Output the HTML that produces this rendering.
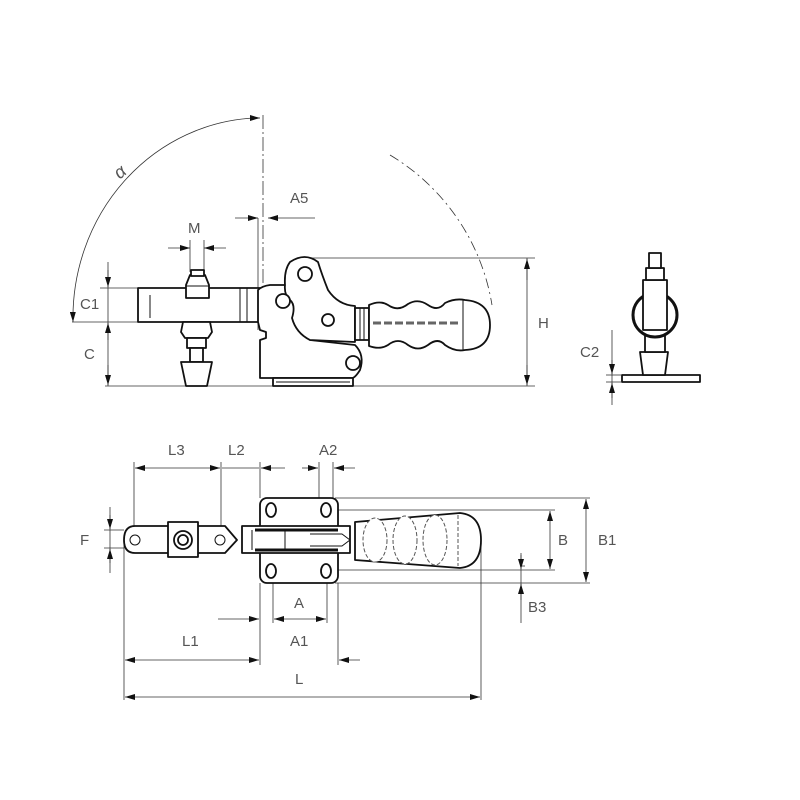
<!DOCTYPE html>
<html><head><meta charset="utf-8"><style>
html,body{margin:0;padding:0;background:#fff;width:800px;height:800px;overflow:hidden}
svg text{font-family:"Liberation Sans",sans-serif;font-size:15px;fill:#555;font-stretch:condensed}
</style></head><body>
<svg width="800" height="800" viewBox="0 0 800 800" xmlns="http://www.w3.org/2000/svg">
<defs>
<marker id="a" markerWidth="10" markerHeight="6" refX="10" refY="3" orient="auto" markerUnits="userSpaceOnUse"><path d="M0,0 L10,3 L0,6 Z" fill="#111"/></marker>
</defs>
<g stroke="#333" stroke-width="0.8" fill="none">
<!-- centre line -->
<line x1="263" y1="115" x2="263" y2="330" stroke-dasharray="14,3,2,3"/>
<!-- alpha arc -->
<path d="M255,118 A190,200 0 0 0 73,322" marker-end="url(#a)"/>
<line x1="250" y1="118" x2="260" y2="118" marker-end="url(#a)"/>
<!-- dashed arc -->
<path d="M390,155 A215,215 0 0 1 492,305" stroke-dasharray="10,4,2,4"/>
<!-- A5 -->
<line x1="235" y1="218" x2="258" y2="218" marker-end="url(#a)"/>
<line x1="315" y1="218" x2="268" y2="218" marker-end="url(#a)"/>
<line x1="258" y1="218" x2="258" y2="330"/>
<!-- M -->
<line x1="168" y1="248" x2="190" y2="248" marker-end="url(#a)"/>
<line x1="226" y1="248" x2="204" y2="248" marker-end="url(#a)"/>
<line x1="190" y1="240" x2="190" y2="272"/><line x1="204" y1="240" x2="204" y2="272"/>
<!-- H -->
<line x1="310" y1="258" x2="535" y2="258"/>
<line x1="105" y1="386" x2="535" y2="386"/>
<line x1="527" y1="258" x2="527" y2="386"/>
<line x1="527" y1="280" x2="527" y2="259" marker-end="url(#a)"/>
<line x1="527" y1="365" x2="527" y2="385" marker-end="url(#a)"/>
<!-- C1 C -->
<line x1="72" y1="322" x2="138" y2="322"/>
<line x1="100" y1="288" x2="138" y2="288"/>
<line x1="108" y1="262" x2="108" y2="386"/>
<line x1="108" y1="270" x2="108" y2="287" marker-end="url(#a)"/>
<line x1="108" y1="340" x2="108" y2="323" marker-end="url(#a)"/>
<line x1="108" y1="365" x2="108" y2="385" marker-end="url(#a)"/>
</g>
<g stroke="#111" stroke-width="1.8" fill="#fff" stroke-linejoin="round">
<!-- arm -->
<rect x="138" y="288" width="122" height="34"/>
<line x1="150" y1="295" x2="150" y2="318" stroke-width="1"/>
<line x1="240" y1="288" x2="240" y2="322" stroke-width="1"/><line x1="247" y1="288" x2="247" y2="322" stroke-width="1"/>
<!-- top nut -->
<path d="M186,298 L186,285 L190,275 L205,275 L209,285 L209,298 Z"/>
<line x1="186" y1="286" x2="209" y2="286" stroke-width="1"/>
<rect x="191" y="270" width="13" height="6"/>
<!-- bottom spindle -->
<path d="M183,322 L210,322 L212,332 L208,338 L185,338 L181,332 Z"/>
<rect x="187" y="338" width="19" height="10"/>
<rect x="190" y="348" width="13" height="14"/>
<path d="M181,362 L212,362 L207,386 L186,386 Z"/>
<!-- body -->
<path d="M258,322 L258,290 Q262,286 270,285 L290,285 Q300,290 300,305 L300,325 Q302,335 310,340 L355,345 Q365,355 360,370 Q355,378 352,378 L273,378 L260,378 L260,340 L266,338 L266,332 L260,330 Z"/>
<rect x="273" y="378" width="80" height="8"/>
<line x1="276" y1="382" x2="350" y2="382" stroke-width="1"/>
<!-- link -->
<path d="M290,262 Q305,252 318,262 Q322,275 328,290 Q338,305 355,306 L355,342 L310,340 Q296,333 292,318 Q296,305 290,300 Q284,295 285,285 Q284,270 290,262 Z"/>
<circle cx="283" cy="301" r="7"/>
<circle cx="305" cy="274" r="7"/>
<circle cx="328" cy="320" r="6"/>
<circle cx="353" cy="363" r="7"/>
<!-- handle -->
<rect x="355" y="308" width="14" height="32"/>
<line x1="360" y1="308" x2="360" y2="340" stroke-width="1"/><line x1="364" y1="308" x2="364" y2="340" stroke-width="1"/>
<path d="M369,305 Q380,300 388,305 Q398,312 408,304 Q418,298 428,305 Q438,312 445,303 Q455,298 465,300 Q490,302 490,325 Q490,349 465,350 Q455,352 445,345 Q438,337 428,345 Q418,352 408,345 Q398,337 388,345 Q380,350 369,346 Z"/>
<line x1="463" y1="300" x2="463" y2="350" stroke-width="1"/>
<line x1="373" y1="323" x2="460" y2="323" stroke-width="3" stroke="#666" stroke-dasharray="8,3"/>
<!-- side view -->
<rect x="622" y="375" width="78" height="7"/>
<path d="M640,352 L668,352 L665,375 L643,375 Z"/>
<rect x="645" y="330" width="20" height="22"/>
<circle cx="655" cy="315" r="22" stroke-width="3"/>
<rect x="643" y="280" width="24" height="50"/>
<rect x="646" y="268" width="18" height="12"/>
<rect x="649" y="253" width="12" height="15"/>
</g>
<g stroke="#333" stroke-width="0.8" fill="none">
<line x1="612" y1="330" x2="612" y2="405"/>
<line x1="606" y1="375" x2="622" y2="375"/><line x1="606" y1="382" x2="622" y2="382"/>
<line x1="612" y1="360" x2="612" y2="374" marker-end="url(#a)"/>
<line x1="612" y1="398" x2="612" y2="383" marker-end="url(#a)"/>
<!-- bottom view dims -->
<line x1="134" y1="462" x2="134" y2="540"/><line x1="221" y1="462" x2="221" y2="540"/><line x1="260" y1="462" x2="260" y2="498"/>
<line x1="319" y1="462" x2="319" y2="505"/><line x1="333" y1="462" x2="333" y2="505"/>
<line x1="178" y1="468" x2="135" y2="468" marker-end="url(#a)"/>
<line x1="178" y1="468" x2="220" y2="468" marker-end="url(#a)"/>
<line x1="222" y1="468" x2="259" y2="468"/>
<line x1="285" y1="468" x2="261" y2="468" marker-end="url(#a)"/>
<line x1="302" y1="468" x2="318" y2="468" marker-end="url(#a)"/>
<line x1="355" y1="468" x2="334" y2="468" marker-end="url(#a)"/>
<!-- F -->
<line x1="110" y1="507" x2="110" y2="573"/>
<line x1="104" y1="530" x2="124" y2="530"/><line x1="104" y1="548" x2="124" y2="548"/>
<line x1="110" y1="515" x2="110" y2="529" marker-end="url(#a)"/>
<line x1="110" y1="563" x2="110" y2="549" marker-end="url(#a)"/>
<!-- B, B1, B3 -->
<line x1="335" y1="498" x2="590" y2="498"/><line x1="335" y1="583" x2="590" y2="583"/>
<line x1="335" y1="510" x2="555" y2="510"/><line x1="335" y1="570" x2="555" y2="570"/>
<line x1="520" y1="566" x2="525" y2="566"/>
<line x1="550" y1="540" x2="550" y2="511" marker-end="url(#a)"/>
<line x1="550" y1="540" x2="550" y2="569" marker-end="url(#a)"/>
<line x1="586" y1="540" x2="586" y2="499" marker-end="url(#a)"/>
<line x1="586" y1="540" x2="586" y2="582" marker-end="url(#a)"/>
<line x1="521" y1="553" x2="521" y2="623"/>
<line x1="521" y1="555" x2="521" y2="569" marker-end="url(#a)"/>
<line x1="521" y1="600" x2="521" y2="584" marker-end="url(#a)"/>
<!-- A -->
<line x1="273" y1="570" x2="273" y2="623"/><line x1="327" y1="570" x2="327" y2="623"/>
<line x1="218" y1="619" x2="259" y2="619" marker-end="url(#a)"/>
<line x1="300" y1="619" x2="274" y2="619" marker-end="url(#a)"/>
<line x1="300" y1="619" x2="326" y2="619" marker-end="url(#a)"/>
<!-- L1 A1 -->
<line x1="260" y1="583" x2="260" y2="665"/><line x1="338" y1="583" x2="338" y2="665"/>
<line x1="124" y1="540" x2="124" y2="700"/><line x1="481" y1="545" x2="481" y2="700"/>
<line x1="190" y1="660" x2="125" y2="660" marker-end="url(#a)"/>
<line x1="190" y1="660" x2="259" y2="660" marker-end="url(#a)"/>
<line x1="360" y1="660" x2="339" y2="660" marker-end="url(#a)"/>
<line x1="300" y1="697" x2="125" y2="697" marker-end="url(#a)"/>
<line x1="300" y1="697" x2="480" y2="697" marker-end="url(#a)"/>
</g>
<g stroke="#111" stroke-width="1.8" fill="#fff" stroke-linejoin="round">
<rect x="260" y="498" width="78" height="85" rx="7"/>
<ellipse cx="271" cy="510" rx="5" ry="7"/><ellipse cx="326" cy="510" rx="5" ry="7"/>
<ellipse cx="271" cy="571" rx="5" ry="7"/><ellipse cx="326" cy="571" rx="5" ry="7"/>
<rect x="242" y="526" width="108" height="27"/>
<line x1="255" y1="530" x2="338" y2="530" stroke-width="3"/><line x1="255" y1="550" x2="338" y2="550" stroke-width="3"/>
<line x1="252" y1="530" x2="252" y2="550" stroke-width="1"/><line x1="285" y1="530" x2="285" y2="550" stroke-width="1"/>
<path d="M310,534 L342,534 L350,540 L342,546 L310,546" stroke-width="1"/>
<path d="M135,526 L225,526 L237,540 L225,553 L135,553 Q124,553 124,540 Q124,526 135,526 Z"/>
<circle cx="135" cy="540" r="5" stroke-width="1"/><circle cx="220" cy="540" r="5" stroke-width="1"/>
<rect x="168" y="522" width="30" height="35"/>
<circle cx="183" cy="540" r="9"/><circle cx="183" cy="540" r="5"/>
<path d="M355,522 L460,513 Q481,515 481,540 Q481,566 460,568 L355,560 Z"/>
<g stroke-width="1" stroke-dasharray="4,2" stroke="#555">
<ellipse cx="375" cy="540" rx="12" ry="22"/><ellipse cx="405" cy="540" rx="12" ry="24"/><ellipse cx="435" cy="540" rx="12" ry="25"/>
<line x1="458" y1="515" x2="458" y2="566"/>
</g>
</g>
<g>
<text x="114" y="176" transform="rotate(-40 122 170)" font-style="italic" style="font-size:18px">α</text>
<text x="290" y="203">A5</text>
<text x="188" y="233">M</text>
<text x="80" y="309">C1</text>
<text x="84" y="359">C</text>
<text x="538" y="328">H</text>
<text x="580" y="357">C2</text>
<text x="168" y="455">L3</text>
<text x="228" y="455">L2</text>
<text x="319" y="455">A2</text>
<text x="80" y="545">F</text>
<text x="558" y="545">B</text>
<text x="598" y="545">B1</text>
<text x="528" y="612">B3</text>
<text x="294" y="608">A</text>
<text x="182" y="646">L1</text>
<text x="290" y="646">A1</text>
<text x="295" y="684">L</text>
</g>
</svg>
</body></html>
